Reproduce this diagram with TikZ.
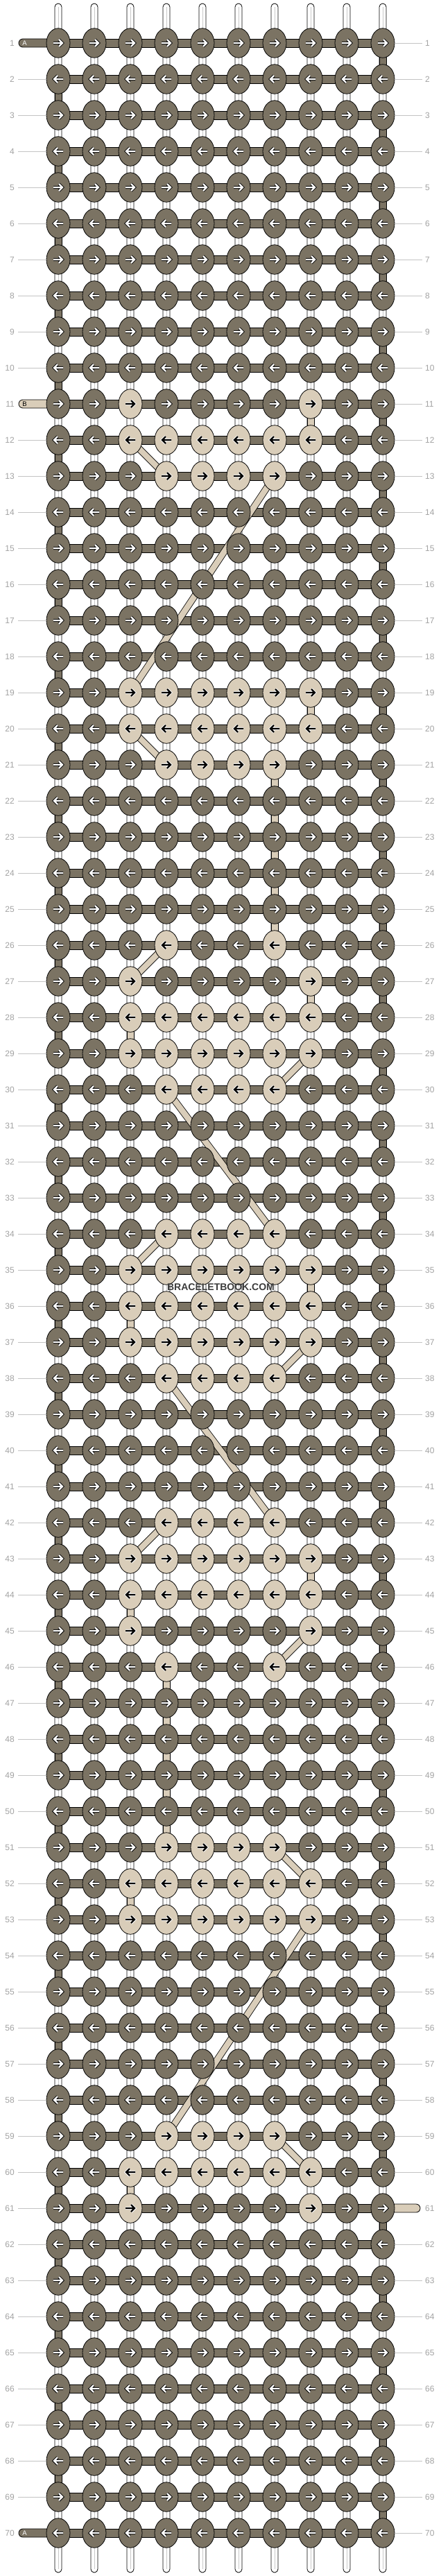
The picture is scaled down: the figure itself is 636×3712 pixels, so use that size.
\documentclass[tikz,border=0pt]{standalone}
\usepackage{fontspec}
\setmainfont{Liberation Sans}
\usetikzlibrary{shapes.geometric}
\definecolor{dk}{HTML}{7B7363}
\definecolor{bg}{HTML}{D9CDB9}
\definecolor{lab}{HTML}{A3A3A3}
\definecolor{labln}{HTML}{C4C4C4}
\definecolor{warpline}{HTML}{C8C8C8}
\definecolor{wm}{HTML}{3C3C3C}
\pgfdeclarelayer{under}
\pgfsetlayers{under,main}
\tikzset{
  knot/.style={ellipse, draw=black, line width=0.8pt, minimum width=34pt, minimum height=42.5pt, inner sep=0pt},
  band/.style={draw=black, line width=0.8pt},
  rowlab/.style={font=\fontsize{12}{12}\selectfont, text=lab, inner sep=0pt},
  labline/.style={draw=labln, line width=0.9pt},
  diagband/.style={draw=black, line width=0.8pt, double=bg, double distance=8.4pt},
  arrout/.style={line width=4.2pt},
  arrin/.style={line width=2.4pt},
}
\newcommand\myrarrow[3]{% x y color
  \draw[#3] (#1-7,#2) -- (#1+6,#2) (#1+1,#2-5) -- (#1+6,#2) -- (#1+1,#2+5);}
\newcommand\mylarrow[3]{%
  \draw[#3] (#1+7,#2) -- (#1-6,#2) (#1-1,#2-5) -- (#1-6,#2) -- (#1-1,#2+5);}
\begin{document}
\begin{tikzpicture}[x=1pt,y=-1pt]
\useasboundingbox (0,0) rectangle (636,3712);

% beige knots
\foreach \r/\cs in {11/{3,8},12/{3,...,8},13/{4,...,7},19/{3,...,8},20/{3,...,8},21/{4,...,7},
  26/{4,7},27/{3,8},28/{3,...,8},29/{3,...,8},30/{4,...,7},34/{4,...,7},35/{3,...,8},
  36/{3,...,8},37/{3,...,8},38/{4,...,7},42/{4,...,7},43/{3,...,8},44/{3,...,8},45/{3,8},
  46/{4,7},51/{4,...,7},52/{3,...,8},53/{3,...,8},59/{4,...,7},60/{3,...,8},61/{3,8}}{
  \foreach \c in \cs {\expandafter\xdef\csname bb-\r-\c\endcsname{1}}}

% knots and arrows
\foreach \r in {1,...,70}{
  \foreach \c in {1,...,10}{
    \pgfmathsetmacro\X{32+52*\c}
    \pgfmathsetmacro\Y{10+52*\r}
    \ifcsname bb-\r-\c\endcsname
      \node[knot, fill=bg] (k-\r-\c) at (\X,\Y) {};
      \ifodd\r\relax
        \myrarrow{\X}{\Y}{arrout,white}\myrarrow{\X}{\Y}{arrin,black}
      \else
        \mylarrow{\X}{\Y}{arrout,white}\mylarrow{\X}{\Y}{arrin,black}
      \fi
    \else
      \node[knot, fill=dk] (k-\r-\c) at (\X,\Y) {};
      \ifodd\r\relax
        \myrarrow{\X}{\Y}{arrout,black}\myrarrow{\X}{\Y}{arrin,white}
      \else
        \mylarrow{\X}{\Y}{arrout,black}\mylarrow{\X}{\Y}{arrin,white}
      \fi
    \fi
  }
}

\begin{pgfonlayer}{under}
\fill[white] (0,0) rectangle (636,3712);
% warp strings
\foreach \c in {1,...,10}{
  \pgfmathsetmacro\X{32+52*\c}
  \draw[band, fill=white, rounded corners=5pt] (\X-5,5) rectangle (\X+5,3707);
  \draw[warpline, line width=1pt] (\X,10) -- (\X,3702);
}
% horizontal working thread
\foreach \r in {1,...,70}{
  \draw[band, fill=dk] ([yshift=6pt]k-\r-1.center) rectangle ([yshift=-6pt]k-\r-10.center);
}
% turns of thread A at the edges
\foreach \r [evaluate=\r as \rn using int(\r+1)] in {1,3,...,69}{
  \draw[band, fill=dk] ([xshift=-5pt]k-\r-10.center) rectangle ([xshift=5pt]k-\rn-10.center);
}
\foreach \r [evaluate=\r as \rn using int(\r+1)] in {2,4,...,68}{
  \draw[band, fill=dk] ([xshift=-5pt]k-\r-1.center) rectangle ([xshift=5pt]k-\rn-1.center);
}
% vertical runs of thread B
\foreach \c/\r [evaluate=\r as \rn using int(\r+1)] in {8/11,8/19,7/21,7/22,7/23,7/24,7/25,8/27,3/28,8/35,3/36,8/43,3/44,4/46,4/47,4/48,4/49,4/50,3/52,3/60}{
  \draw[band, fill=bg] ([xshift=-5pt]k-\r-\c.center) rectangle ([xshift=5pt]k-\rn-\c.center);
}
% diagonal runs of thread B
\foreach \ra/\ca/\rb/\cb in {12/3/13/4,13/7/19/3,20/3/21/4,26/4/27/3,29/8/30/7,30/4/34/7,34/4/35/3,
  37/8/38/7,38/4/42/7,42/4/43/3,45/8/46/7,51/7/52/8,53/8/59/4,59/7/60/8}{
  \draw[diagband] (k-\ra-\ca.center) -- (k-\rb-\cb.center);
}
% thread ends
\draw[band, fill=dk, rounded corners=6pt] (27,56) rectangle (90,68);
\draw[band, fill=bg, rounded corners=6pt] (27,576) rectangle (90,588);
\draw[band, fill=dk, rounded corners=6pt] (27,3644) rectangle (90,3656);
\draw[band, fill=bg, rounded corners=6pt] (546,3176) rectangle (606,3188);
\end{pgfonlayer}

\node[font=\fontsize{9.5}{9.5}\selectfont, text=white, inner sep=0pt] (ta1) at (35.5,62) {A};
\node[font=\fontsize{9.5}{9.5}\selectfont, text=black, inner sep=0pt] (tb) at (35.5,582) {B};
\node[font=\fontsize{9.5}{9.5}\selectfont, text=white, inner sep=0pt] (ta2) at (35.5,3650) {A};

% row labels
\foreach \r in {1,...,70}{
  \pgfmathsetmacro\Y{10+52*\r}
  \node[rowlab, anchor=east] (ll-\r) at (21,\Y) {\r};
  \node[rowlab, anchor=west] (rl-\r) at (613,\Y) {\r};
  \ifnum\r=1 \else\ifnum\r=11 \else\ifnum\r=70 \else
    \draw[labline] (26,\Y) -- (k-\r-1.west);
  \fi\fi\fi
  \ifnum\r=61 \else
    \draw[labline] (k-\r-10.east) -- (609,\Y);
  \fi
}

\node[font=\bfseries\fontsize{14}{14}\selectfont, text=wm, inner sep=0pt] (wmark) at (318.5,1855) {BRACELETBOOK.COM};
\end{tikzpicture}
\end{document}
